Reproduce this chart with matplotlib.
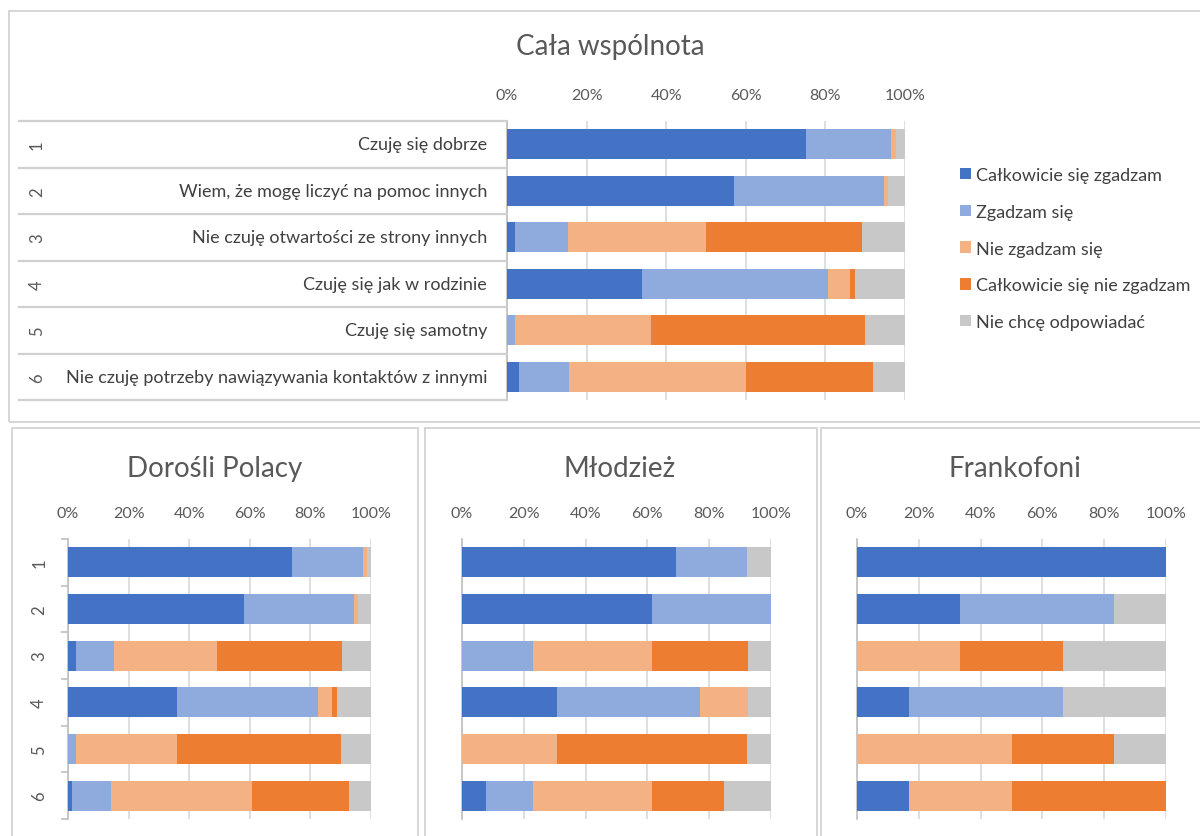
import matplotlib
matplotlib.use("Agg")
import matplotlib.pyplot as plt
import matplotlib.transforms as mtransforms
from matplotlib.patches import Rectangle, Patch
from matplotlib.lines import Line2D

plt.rcParams['font.family'] = ['Lato', 'DejaVu Sans']

# ---------------- data ----------------
categories = ["Czuję się dobrze",
              "Wiem, że mogę liczyć na pomoc innych",
              "Nie czuję otwartości ze strony innych",
              "Czuję się jak w rodzinie",
              "Czuję się samotny",
              "Nie czuję potrzeby nawiązywania kontaktów z innymi"]
row_numbers = ["1", "2", "3", "4", "5", "6"]
series_names = ["Całkowicie się zgadzam", "Zgadzam się", "Nie zgadzam się",
                "Całkowicie się nie zgadzam", "Nie chcę odpowiadać"]
xtick_values = [0, 20, 40, 60, 80, 100]
xtick_labels = ["0%", "20%", "40%", "60%", "80%", "100%"]

# Cała wspólnota
cala_calk_zgadzam = [75.0, 57.0, 2.0, 34.0, 0.0, 3.0]
cala_zgadzam = [21.6, 37.6, 13.3, 46.7, 1.9, 12.5]
cala_nie_zgadzam = [1.2, 1.1, 34.7, 5.6, 34.2, 44.6]
cala_calk_nie = [0.0, 0.0, 39.1, 1.1, 53.8, 31.9]
cala_nie_chce = [2.2, 4.3, 10.9, 12.6, 10.1, 8.0]

# Dorośli Polacy
dor_calk_zgadzam = [74.0, 58.0, 2.6, 36.1, 0.0, 1.2]
dor_zgadzam = [23.3, 36.4, 12.5, 46.4, 2.5, 13.0]
dor_nie_zgadzam = [1.3, 1.4, 34.1, 4.6, 33.5, 46.4]
dor_calk_nie = [0.0, 0.0, 41.2, 1.6, 54.0, 32.3]
dor_nie_chce = [1.4, 4.2, 9.6, 11.3, 10.0, 7.1]

# Młodzież
mlo_calk_zgadzam = [69.2, 61.5, 0.0, 30.8, 0.0, 7.7]
mlo_zgadzam = [23.1, 38.5, 23.1, 46.2, 0.0, 15.4]
mlo_nie_zgadzam = [0.0, 0.0, 38.5, 15.4, 30.8, 38.5]
mlo_calk_nie = [0.0, 0.0, 30.8, 0.0, 61.5, 23.1]
mlo_nie_chce = [7.7, 0.0, 7.7, 7.7, 7.7, 15.4]

# Frankofoni
fr_calk_zgadzam = [100.0, 33.3, 0.0, 16.7, 0.0, 16.7]
fr_zgadzam = [0.0, 50.0, 0.0, 50.0, 0.0, 0.0]
fr_nie_zgadzam = [0.0, 0.0, 33.3, 0.0, 50.0, 33.3]
fr_calk_nie = [0.0, 0.0, 33.3, 0.0, 33.3, 50.0]
fr_nie_chce = [0.0, 16.7, 33.3, 33.3, 16.7, 0.0]

colors = ["#4472C4", "#8FAADC", "#F4B183", "#ED7D31", "#C8C8C8"]
TEXT = "#595959"
GRID = "#D9D9D9"

W, H = 1200, 837
fig = plt.figure(figsize=(W / 100, H / 100), dpi=100)
fig.patch.set_facecolor("white")


def px_axes(x0, y0, x1, y1):
    return fig.add_axes([x0 / W, 1 - y1 / H, (x1 - x0) / W, (y1 - y0) / H])


def px_box(x0, y0, x1, y1):
    fig.patches.append(Rectangle((x0 / W, 1 - y1 / H), (x1 - x0) / W, (y1 - y0) / H,
                                 transform=fig.transFigure, fill=False,
                                 edgecolor="#D6D6D6", linewidth=1.4, zorder=0))


def stacked(ax, series):
    left = [0.0] * len(series[0])
    ys = list(range(len(series[0])))
    for vals, c, name in zip(series, colors, series_names):
        ax.barh(ys, vals, left=left, height=0.64, color=c, label=name, zorder=3)
        left = [l + v for l, v in zip(left, vals)]
    ax.set_xlim(0, 100)
    ax.set_ylim(len(ys) - 0.5, -0.5)
    ax.set_xticks(xtick_values)
    ax.set_xticklabels(xtick_labels)
    ax.xaxis.tick_top()
    ax.tick_params(axis='x', length=0, pad=14, labelsize=11.5, labelcolor=TEXT)
    ax.grid(axis='x', color=GRID, linewidth=1.2, zorder=0)
    for s in ["top", "right", "bottom"]:
        ax.spines[s].set_visible(False)
    ax.spines["left"].set_color("#BFBFBF")
    ax.spines["left"].set_linewidth(1.2)
    ax.set_facecolor("none")


# ---------------- panel borders ----------------
px_box(9, 12, 1210, 423)
px_box(12, 429, 418, 850)
px_box(425, 429, 817, 850)
px_box(821, 429, 1210, 850)

# ---------------- top chart ----------------
ax0 = px_axes(507, 122, 905, 401)
stacked(ax0, [cala_calk_zgadzam, cala_zgadzam, cala_nie_zgadzam, cala_calk_nie, cala_nie_chce])
ax0.set_yticks([])
fig.text(610 / W, 1 - 47 / H, "Cała wspólnota", ha="center", va="center",
         fontsize=20, color=TEXT)

blend = mtransforms.blended_transform_factory(fig.transFigure, ax0.transData)
for i, (num, cat) in enumerate(zip(row_numbers, categories)):
    fig.text(487 / W, i, cat, transform=blend, ha="right", va="center",
             fontsize=13, color="#404040")
    fig.text(37 / W, i, num, transform=blend, ha="center", va="center",
             fontsize=12, color=TEXT, rotation=90)
for b in [i - 0.5 for i in range(len(categories) + 1)]:
    fig.add_artist(Line2D([19 / W, 507 / W], [b, b], transform=blend,
                          color="#D0D0D0", linewidth=1.6))

handles = [Patch(facecolor=c, edgecolor="none", label=n) for c, n in zip(colors, series_names)]
fig.legend(handles=handles, loc="upper left", bbox_to_anchor=(951 / W, 1 - 159 / H),
           frameon=False, fontsize=13, labelcolor="#404040", handlelength=0.6,
           handleheight=0.6, handletextpad=0.3, labelspacing=1.15, borderpad=0)

# ---------------- bottom charts ----------------
bottom = [
    ("Dorośli Polacy", (68, 371), 215,
     [dor_calk_zgadzam, dor_zgadzam, dor_nie_zgadzam, dor_calk_nie, dor_nie_chce]),
    ("Młodzież", (462, 771), 620,
     [mlo_calk_zgadzam, mlo_zgadzam, mlo_nie_zgadzam, mlo_calk_nie, mlo_nie_chce]),
    ("Frankofoni", (857, 1166), 1015,
     [fr_calk_zgadzam, fr_zgadzam, fr_nie_zgadzam, fr_calk_nie, fr_nie_chce]),
]
for k, (title, (xa, xb), tx, series) in enumerate(bottom):
    ax = px_axes(xa, 540, xb, 820)
    stacked(ax, series)
    fig.text(tx / W, 1 - 469 / H, title, ha="center", va="center", fontsize=20, color=TEXT)
    if k == 0:
        ax.set_yticks(range(len(row_numbers)))
        ax.set_yticklabels(row_numbers, rotation=90, va="center")
        ax.tick_params(axis='y', which='major', length=0, pad=15, labelsize=12, labelcolor=TEXT)
        ax.set_yticks([i - 0.5 for i in range(len(row_numbers) + 1)], minor=True)
        ax.tick_params(axis='y', which='minor', length=5, color="#BFBFBF", width=1.2)
    else:
        ax.set_yticks([])

fig.savefig("out.png", dpi=100, facecolor="white")
